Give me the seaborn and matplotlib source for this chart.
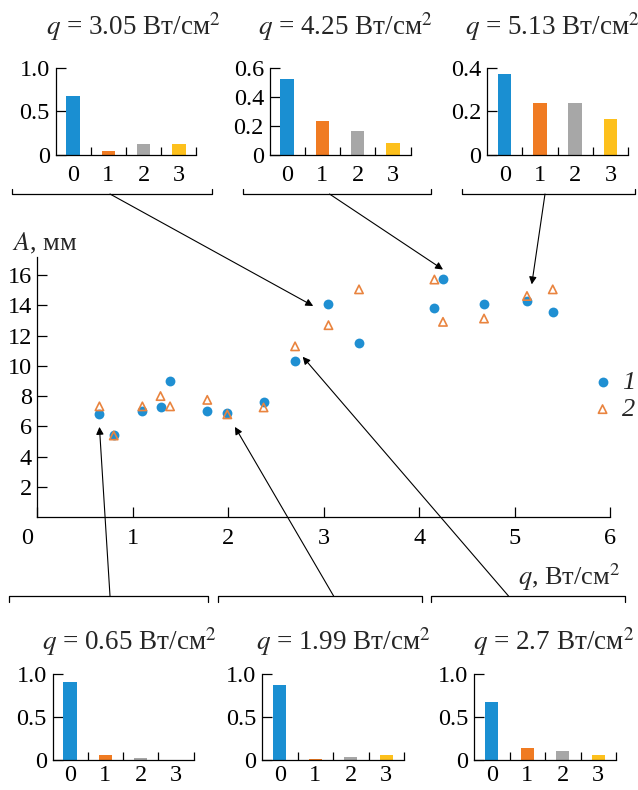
import pandas as pd
import seaborn as sns
import matplotlib.pyplot as plt
import matplotlib.transforms as mtransforms
from matplotlib.lines import Line2D

# main plot: amplitude A (mm) vs heat flux q (W/cm^2)
q_vals = [0.65, 0.80, 1.10, 1.29, 1.39, 1.78, 1.99, 2.37, 2.70, 3.05, 3.37, 4.16, 4.25, 4.68, 5.13, 5.40]
a_series1 = [6.83, 5.45, 7.01, 7.29, 8.98, 7.03, 6.88, 7.60, 10.34, 14.09, 11.48, 13.85, 15.74, 14.09, 14.29, 13.59]
a_series2 = [7.32, 5.39, 7.32, 8.00, 7.32, 7.75, 6.79, 7.25, 11.29, 12.69, 15.06, 15.71, 12.91, 13.13, 14.62, 15.06]
series_labels = ['1', '2']
main_xticks = [0, 1, 2, 3, 4, 5, 6]
main_yticks = [2, 4, 6, 8, 10, 12, 14, 16]

# inset histograms
categories = ['0', '1', '2', '3']
bar_colors = ['#1a8fd2', '#f07b22', '#a7a7a7', '#fdc01c']
top_q = ['3.05', '4.25', '5.13']
top_vals = [[0.68, 0.046, 0.126, 0.126],
            [0.52, 0.231, 0.163, 0.080],
            [0.371, 0.237, 0.237, 0.166]]
top_yticks = [[0, 0.5, 1.0], [0, 0.2, 0.4, 0.6], [0, 0.2, 0.4]]
top_yticklabels = [['0', '0.5', '1.0'], ['0', '0.2', '0.4', '0.6'], ['0', '0.2', '0.4']]
bottom_q = ['0.65', '1.99', '2.7']
bottom_vals = [[0.91, 0.058, 0.02, 0.0],
               [0.877, 0.008, 0.03, 0.058],
               [0.673, 0.135, 0.104, 0.058]]
bottom_yticks = [[0, 0.5, 1.0]] * 3
bottom_yticklabels = [['0', '0.5', '1.0']] * 3

# where the arrows point in the main plot (q, A)
top_arrow_tips = [(2.89, 13.96), (4.25, 16.37), (5.18, 15.39)]
bottom_arrow_tips = [(0.65, 5.96), (2.07, 5.96), (2.78, 10.6)]

W, H = 638, 790


def fx(x):
    return x / W


def fy(y):
    return 1 - y / H


def px_rect(left, top, right, bottom):
    return [fx(left), fy(bottom), (right - left) / W, (bottom - top) / H]


sns.set_style('ticks')
plt.rcParams['font.family'] = ['Liberation Serif', 'DejaVu Serif']
plt.rcParams['mathtext.fontset'] = 'stix'
plt.rcParams['axes.edgecolor'] = 'black'
plt.rcParams['xtick.color'] = 'black'
plt.rcParams['ytick.color'] = 'black'
plt.rcParams['axes.linewidth'] = 0.9

fig = plt.figure(figsize=(W / 100, H / 100), dpi=100)

# ---- main scatter
ax = fig.add_axes(px_rect(37.4, 257, 610, 517))
df = pd.DataFrame({'q': q_vals, 'a1': a_series1, 'a2': a_series2})
sns.scatterplot(data=df, x='q', y='a1', ax=ax, marker='o', s=50, color='#1f8fd2',
                edgecolor='#1f8fd2', linewidth=0, label=series_labels[0], zorder=3)
sns.scatterplot(data=df, x='q', y='a2', ax=ax, marker='^', s=36, color='#e9843f',
                facecolors='none', edgecolor='#e9843f', linewidth=1.2,
                label=series_labels[1], zorder=4)
ax.set_xlim(0, 6)
ax.set_ylim(0, 17.2)
ax.set_xticks(main_xticks)
ax.set_yticks(main_yticks)
ax.tick_params(direction='in', length=7, width=0.9, labelsize=17.5)
ax.tick_params(axis='x', pad=8)
ax.tick_params(axis='y', pad=4)
sns.despine(ax=ax)
# the origin label sits left of the corner
lbl0 = ax.get_xticklabels()[0]
lbl0.set_transform(lbl0.get_transform() + mtransforms.ScaledTranslation(-0.10, 0, fig.dpi_scale_trans))

ax.set_ylabel(r'$A$, мм', rotation=0, fontsize=19, ha='left', va='center')
ax.yaxis.set_label_coords(-0.045, 1.054)
ax.set_xlabel(r'$q$, Вт/см$^2$', fontsize=19, ha='right', va='center')
ax.xaxis.set_label_coords(1.0175, -0.231)

handles, labels = ax.get_legend_handles_labels()
ax.legend(handles, labels, loc='center left', bbox_to_anchor=(fx(592), fy(396)),
          bbox_transform=fig.transFigure, frameon=False, borderpad=0, borderaxespad=0,
          handlelength=0.8, handletextpad=0.35, labelspacing=0.12,
          prop={'family': 'Liberation Serif', 'style': 'italic', 'size': 19})


def draw_inset(rect, vals, yticks, yticklabels, title, title_x, title_pad, xpad):
    iax = fig.add_axes(rect)
    sns.barplot(x=categories, y=vals, hue=categories, palette=bar_colors, legend=False,
                width=0.38, saturation=1, linewidth=0, ax=iax)
    iax.set_xlim(-0.5, 3.5)
    iax.set_ylim(0, yticks[-1])
    iax.set_yticks(yticks, yticklabels)
    iax.set_xticks(range(4), categories)
    iax.set_xticks([0.5, 1.5, 2.5, 3.5], minor=True)
    iax.tick_params(axis='x', which='major', length=0, pad=xpad, labelsize=17.5)
    iax.tick_params(axis='x', which='minor', direction='in', length=6, width=0.9)
    iax.tick_params(axis='y', direction='in', length=7, width=0.9, pad=4, labelsize=17.5)
    iax.set_xlabel('')
    iax.set_ylabel('')
    sns.despine(ax=iax)
    iax.set_title(r'$q$ = ' + title + r' Вт/см$^2$', fontsize=19.5, pad=title_pad, x=title_x)
    return iax


top_layout = [(55.5, 196.5, 133.5), (269.5, 410.5, 345.5), (487, 628, 552)]
for (l, r, tc), vals, yt, ytl, qq in zip(top_layout, top_vals, top_yticks, top_yticklabels, top_q):
    draw_inset(px_rect(l, 67.7, r, 155), vals, yt, ytl, qq, (tc - l) / (r - l), 23.5, 7)

bottom_layout = [(52.5, 193.5, 129.5), (262, 404, 343.5), (474, 616, 553.5)]
for (l, r, tc), vals, yt, ytl, qq in zip(bottom_layout, bottom_vals, bottom_yticks, bottom_yticklabels, bottom_q):
    draw_inset(px_rect(l, 674, r, 759.5), vals, yt, ytl, qq, (tc - l) / (r - l), 17.5, 4)

# brackets under / over the insets
for x0, x1 in [(12, 212), (243, 431), (462, 635)]:
    fig.add_artist(Line2D([fx(x0), fx(x0), fx(x1), fx(x1)], [fy(189), fy(194), fy(194), fy(189)],
                          transform=fig.transFigure, color='black', lw=0.9))
for x0, x1 in [(9, 208), (218, 422), (431, 625)]:
    fig.add_artist(Line2D([fx(x0), fx(x0), fx(x1), fx(x1)], [fy(602), fy(596), fy(596), fy(602)],
                          transform=fig.transFigure, color='black', lw=0.9))

arrow_kw = dict(arrowstyle='-|>', color='black', lw=0.8, mutation_scale=11, shrinkA=0, shrinkB=0)
for sx, tip in zip([110, 329.5, 545], top_arrow_tips):
    ax.annotate('', xy=tip, xycoords='data', xytext=(fx(sx), fy(194)),
                textcoords='figure fraction', arrowprops=arrow_kw, annotation_clip=False)
for sx, tip in zip([110, 333.6, 508.5], bottom_arrow_tips):
    ax.annotate('', xy=tip, xycoords='data', xytext=(fx(sx), fy(596)),
                textcoords='figure fraction', arrowprops=arrow_kw, annotation_clip=False)

fig.savefig('out.png', dpi=100)
